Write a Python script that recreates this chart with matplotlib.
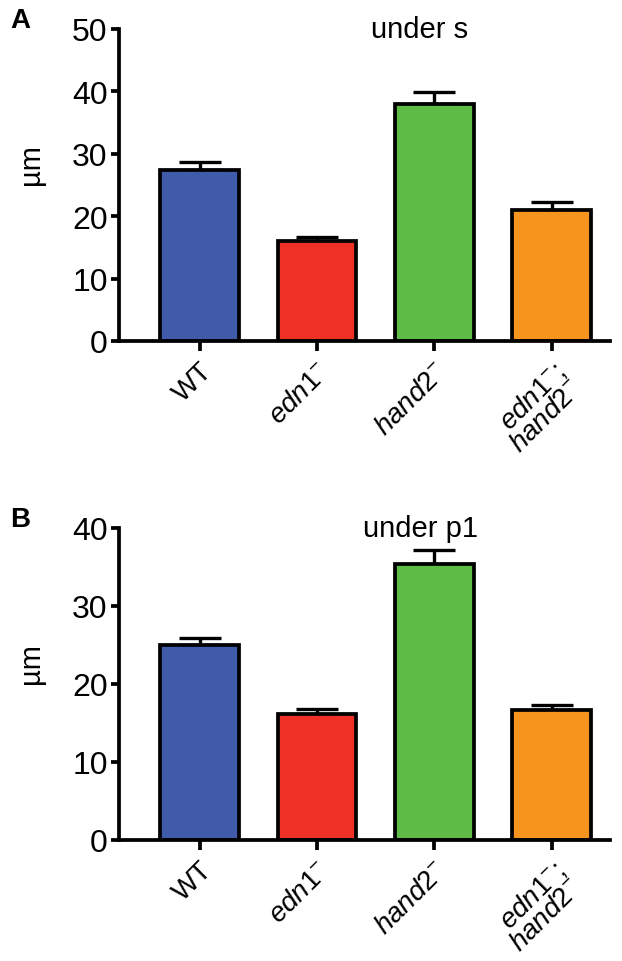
import matplotlib.pyplot as plt
import numpy as np

plt.rcParams['font.family'] = ['Liberation Sans', 'DejaVu Sans']
plt.rcParams['mathtext.fontset'] = 'custom'
plt.rcParams['mathtext.rm'] = 'Liberation Sans'
plt.rcParams['mathtext.it'] = 'Liberation Sans:italic'

groups = ['WT', '$\\it{edn1}^{-}$', '$\\it{hand2}^{-}$', '$\\it{edn1}^{-}$;\n$\\it{hand2}^{-}$']
colors = ['#3F5BA9', '#EE3124', '#5DBB46', '#F7941D']

# panel A: under s
a_mean = [27.4, 16.0, 37.9, 21.0]
a_sem = [1.2, 0.7, 2.0, 1.2]
# panel B: under p1
b_mean = [25.0, 16.1, 35.3, 16.6]
b_sem = [0.9, 0.6, 1.8, 0.7]

fig = plt.figure(figsize=(6.22, 9.62), dpi=100)
axA = fig.add_axes([0.191, 0.6445, 0.79, 0.3245])
axB = fig.add_axes([0.191, 0.126, 0.79, 0.3245])


def panel(ax, mean, sem, ymax, title):
    x = np.arange(len(mean))
    ax.bar(x, mean, width=0.67, color=colors, edgecolor='black', linewidth=2.7, zorder=2)
    ax.errorbar(x, mean, yerr=[np.zeros(len(sem)), sem], fmt='none', ecolor='black',
                elinewidth=2.4, capsize=15, capthick=2.4, zorder=1)
    ax.set_xlim(-0.69, 3.5)
    ax.set_ylim(0, ymax)
    ax.set_yticks(np.arange(0, ymax + 1, 10))
    ax.set_xticks(x)
    ax.set_xticklabels(groups, rotation=45, ha='right', rotation_mode='anchor',
                       fontsize=20, linespacing=0.9)
    ax.spines['top'].set_visible(False)
    ax.spines['right'].set_visible(False)
    for s in ['left', 'bottom']:
        ax.spines[s].set_linewidth(2.7)
    ax.tick_params(axis='y', width=2.7, length=6, labelsize=23, pad=2)
    ax.tick_params(axis='x', width=2.7, length=7, pad=5)
    ax.set_ylabel('µm', fontsize=21)
    ax.yaxis.set_label_coords(-0.15, 0.567)
    ax.text(0.613, 1.0, title, transform=ax.transAxes, ha='center', va='center', fontsize=21)


panel(axA, a_mean, a_sem, 50, 'under s')
panel(axB, b_mean, b_sem, 40, 'under p1')

fig.text(0.016, 0.978, 'A', fontsize=20, fontweight='bold', va='center')
fig.text(0.016, 0.459, 'B', fontsize=20, fontweight='bold', va='center')

plt.savefig('out.png', dpi=100)
